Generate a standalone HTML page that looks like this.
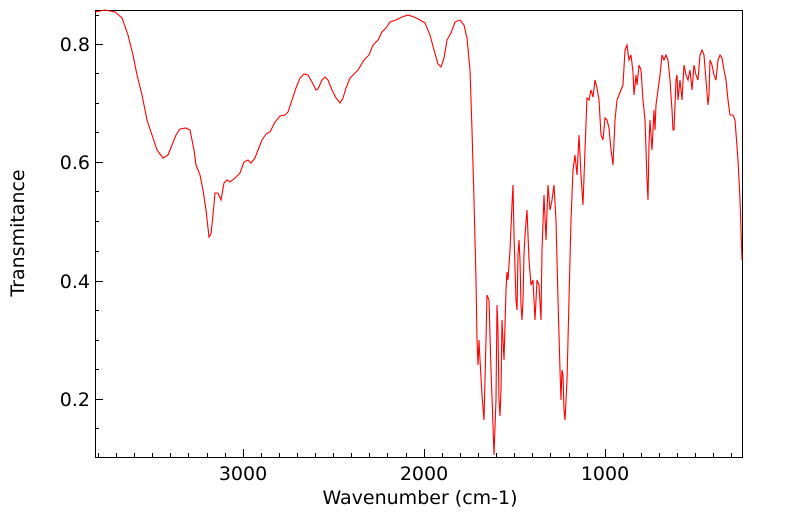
<!DOCTYPE html>
<html><head><style>body{margin:0;background:#fff}svg{display:block}text{font-family:"DejaVu Sans","Liberation Sans",sans-serif;font-size:19px;fill:#000}</style></head>
<body>
<svg width="799" height="516" viewBox="0 0 799 516">
<rect x="95.5" y="10.5" width="647" height="447" fill="none" stroke="#000" stroke-width="1"/>
<g stroke="#000" stroke-width="1">
<path d="M95 44.5h8M95 162.5h8M95 281.5h8M95 399.5h8M95 103.5h4M95 221.5h4M95 340.5h4M95 15.5h4M95 73.5h4M95 132.5h4M95 191.5h4M95 251.5h4M95 310.5h4M95 369.5h4M95 428.5h4"/>
<path d="M243.5 457v-8M424.5 457v-8M605.5 457v-8"/>
<path d="M98.5 457v-4M116.5 457v-4M134.5 457v-4M152.5 457v-4M170.5 457v-4M188.5 457v-4M207.5 457v-4M225.5 457v-4M261.5 457v-4M279.5 457v-4M297.5 457v-4M315.5 457v-4M333.5 457v-4M351.5 457v-4M369.5 457v-4M387.5 457v-4M406.5 457v-4M442.5 457v-4M460.5 457v-4M478.5 457v-4M496.5 457v-4M514.5 457v-4M532.5 457v-4M550.5 457v-4M569.5 457v-4M587.5 457v-4M623.5 457v-4M641.5 457v-4M659.5 457v-4M677.5 457v-4M695.5 457v-4M713.5 457v-4M731.5 457v-4"/>
</g>
<text x="90" y="51" text-anchor="end">0.8</text>
<text x="90" y="169" text-anchor="end">0.6</text>
<text x="90" y="288" text-anchor="end">0.4</text>
<text x="90" y="406" text-anchor="end">0.2</text>
<text x="243" y="480" text-anchor="middle">3000</text>
<text x="424" y="480" text-anchor="middle">2000</text>
<text x="605" y="480" text-anchor="middle">1000</text>
<text x="420" y="504" text-anchor="middle">Wavenumber (cm-1)</text>
<text x="24" y="233" text-anchor="middle" transform="rotate(-90 24 233)">Transmitance</text>
<polyline fill="none" stroke="#f00" stroke-width="1.1" points="95,12 105,10 115,12 122,18 128,35 133,55 137,75 142,95 147,120 152,135 157,150 163,158 168,155 172,145 176,135 180,129 186,128 190,130 194,150 196,165 200,175 203,190 206,210 208,228 209,237 211,234 213,215 215,193 218,193 221,200 224,183 227,180 230,182 235,178 240,173 244,162 248,160 251,163 255,158 258,150 262,140 266,134 270,132 275,122 280,116 285,115 288,112 292,100 296,88 300,78 304,74 308,75 312,82 316,90 318,89 322,80 325,77 328,80 332,90 336,98 340,103 343,98 346,88 350,78 354,74 358,70 364,60 369,55 373,45 378,40 382,32 386,28 390,22 396,20 402,17 408,15 414,17 420,20 425,23 430,35 434,50 438,64 441,67 444,58 447,40 451,33 455,22 460,20 464,25 467,38 470,70 472,130 474,200 476,280 477,340 478,365 479,340 480,360 482,395 484,420 486,340 487,295 489,300 491,370 493,425 494,455 496,400 497,305 498,330 499,400 500,416 501,390 502,320 503,340 504,360 506,290 507,272 508,280 510,250 512,205 513,185 514,235 516,300 517,310 518,255 519,240 520,260 521,305 522,320 523,300 524,255 525,235 527,210 529,260 531,285 533,280 535,320 537,280 539,285 541,320 542,250 544,195 546,240 548,185 550,210 552,200 554,185 556,220 558,300 560,370 561,400 562,370 563,375 564,410 565,420 567,380 569,300 571,220 573,170 575,155 577,175 579,135 581,175 583,205 585,150 587,98 589,100 591,90 593,97 595,80 597,88 599,100 601,135 603,140 605,118 607,120 609,128 611,150 613,165 615,120 617,100 619,95 621,90 623,85 625,50 627,45 629,60 631,55 633,72 634,95 636,75 637,85 639,65 641,70 643,100 645,120 646,150 647,180 648,200 649,145 650,120 652,150 654,110 655,130 656,105 658,90 660,75 662,55 664,60 666,55 668,60 670,80 672,110 673,130 674,130 676,80 677,75 678,100 680,80 682,100 684,65 686,75 688,80 690,70 692,90 694,65 696,75 698,80 700,55 702,50 704,55 706,80 708,105 709,95 710,60 712,65 714,75 716,80 718,60 720,55 722,58 724,70 726,80 728,100 730,115 733,115 735,120 738,160 740,200 742,260"/>
</svg>
</body></html>
